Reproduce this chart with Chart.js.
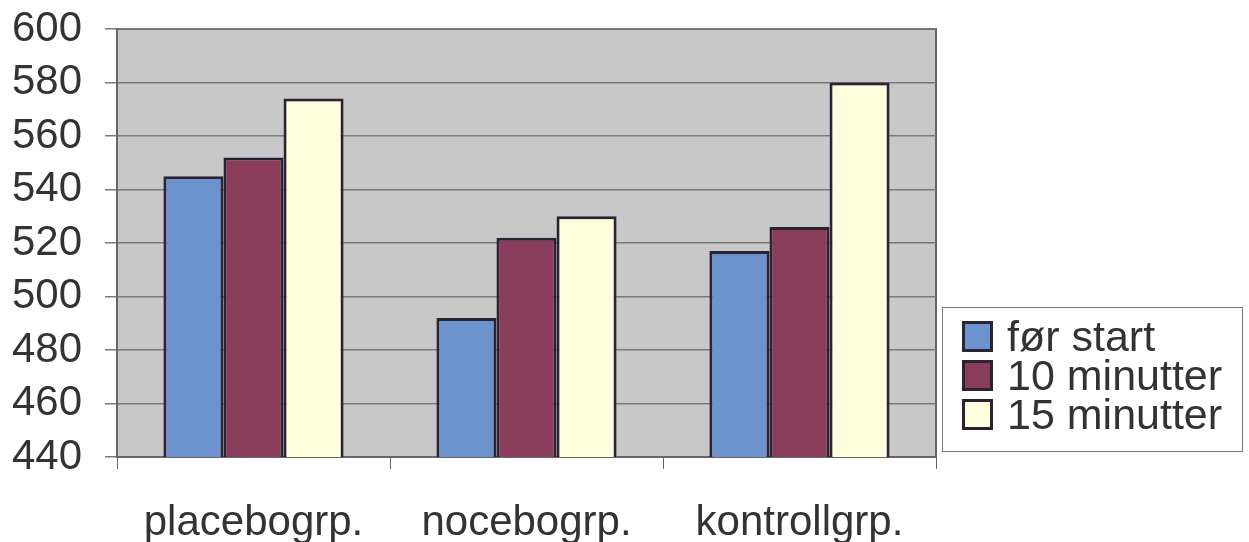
<!DOCTYPE html>
<html>
<head>
<meta charset="utf-8">
<script src="https://cdn.jsdelivr.net/npm/chart.js@4/dist/chart.umd.min.js"></script>
<style>
    body { margin: 0; background: #fff; }
    #wrap { position: relative; width: 1249px; height: 542px; }
    #legend {
        position: absolute; left: 942px; top: 307px; width: 301px; height: 145px;
        border: 1px solid #777; box-sizing: border-box; padding: 9px 0 0 19px;
        font-family: "Liberation Sans", Arial, sans-serif; font-size: 43px; color: #333;
    }
    .row { display: flex; align-items: center; height: 39px; }
    .sq { width: 25px; height: 25px; border: 3px solid #2b2233; margin-right: 14px; flex: none; }
</style>
</head>
<body>
<div id="wrap">
    <canvas id="chart" width="1249" height="542"></canvas>
    <div id="legend"></div>
</div>
<script>
/* data */
const grupper = ["placebogrp.", "nocebogrp.", "kontrollgrp."];
const serier = ["før start", "10 minutter", "15 minutter"];
const forStart = [545, 492, 517];
const tiMin = [552, 522, 526];
const femtenMin = [574, 530, 580];
const yTicks = [440, 460, 480, 500, 520, 540, 560, 580, 600];

const farger = ["#6d93cf", "#8a3d5b", "#ffffe0"];
const kant = "#2b2233";
const FONT = "'Liberation Sans', Arial, sans-serif";

/* bakgrunn i plottområdet */
const plotBakgrunn = {
    id: "plotBakgrunn",
    beforeDraw(chart) {
        const { ctx, chartArea: a } = chart;
        ctx.save();
        ctx.fillStyle = "#c8c8c8";
        ctx.fillRect(a.left, a.top, a.right - a.left, a.bottom - a.top);
        ctx.strokeStyle = "#666";
        ctx.lineWidth = 2;
        ctx.strokeRect(a.left, a.top, a.right - a.left, a.bottom - a.top);
        ctx.restore();
    }
};

const verdier = [forStart, tiMin, femtenMin];

new Chart(document.getElementById("chart"), {
    type: "bar",
    data: {
        labels: grupper,
        datasets: serier.map((navn, i) => ({
            label: navn,
            data: verdier[i],
            backgroundColor: farger[i],
            borderColor: kant,
            borderWidth: 3,
            borderSkipped: "bottom",
            barPercentage: 1,
            categoryPercentage: 0.66
        }))
    },
    options: {
        responsive: false,
        animation: false,
        layout: { padding: { left: 10, right: 313, top: 29, bottom: 0 } },
        plugins: { legend: { display: false }, tooltip: { enabled: false } },
        scales: {
            x: {
                afterFit(axis) { axis.height = 85; axis.paddingLeft = 0; axis.paddingRight = 0; },
                grid: { drawOnChartArea: false, tickLength: 12, color: "#666", offset: true },
                border: { color: "#666", width: 2 },
                ticks: { color: "#333", padding: 29, font: { family: FONT, size: 42 } }
            },
            y: {
                min: 440,
                max: 600,
                afterFit(axis) { axis.width = 107; axis.paddingTop = 0; axis.paddingBottom = 0; },
                afterBuildTicks(axis) { axis.ticks = yTicks.map(v => ({ value: v })); },
                grid: { color: "#7a7a7a", tickLength: 12, lineWidth: 1.5 },
                border: { color: "#666", width: 2 },
                ticks: { color: "#333", padding: 23, autoSkip: false, font: { family: FONT, size: 42 } }
            }
        }
    },
    plugins: [plotBakgrunn]
});

/* legende */
const leg = document.getElementById("legend");
serier.forEach((navn, i) => {
    const row = document.createElement("div");
    row.className = "row";
    row.innerHTML = `<span class="sq" style="background:${farger[i]}"></span><span>${navn}</span>`;
    leg.appendChild(row);
});
</script>
</body>
</html>
